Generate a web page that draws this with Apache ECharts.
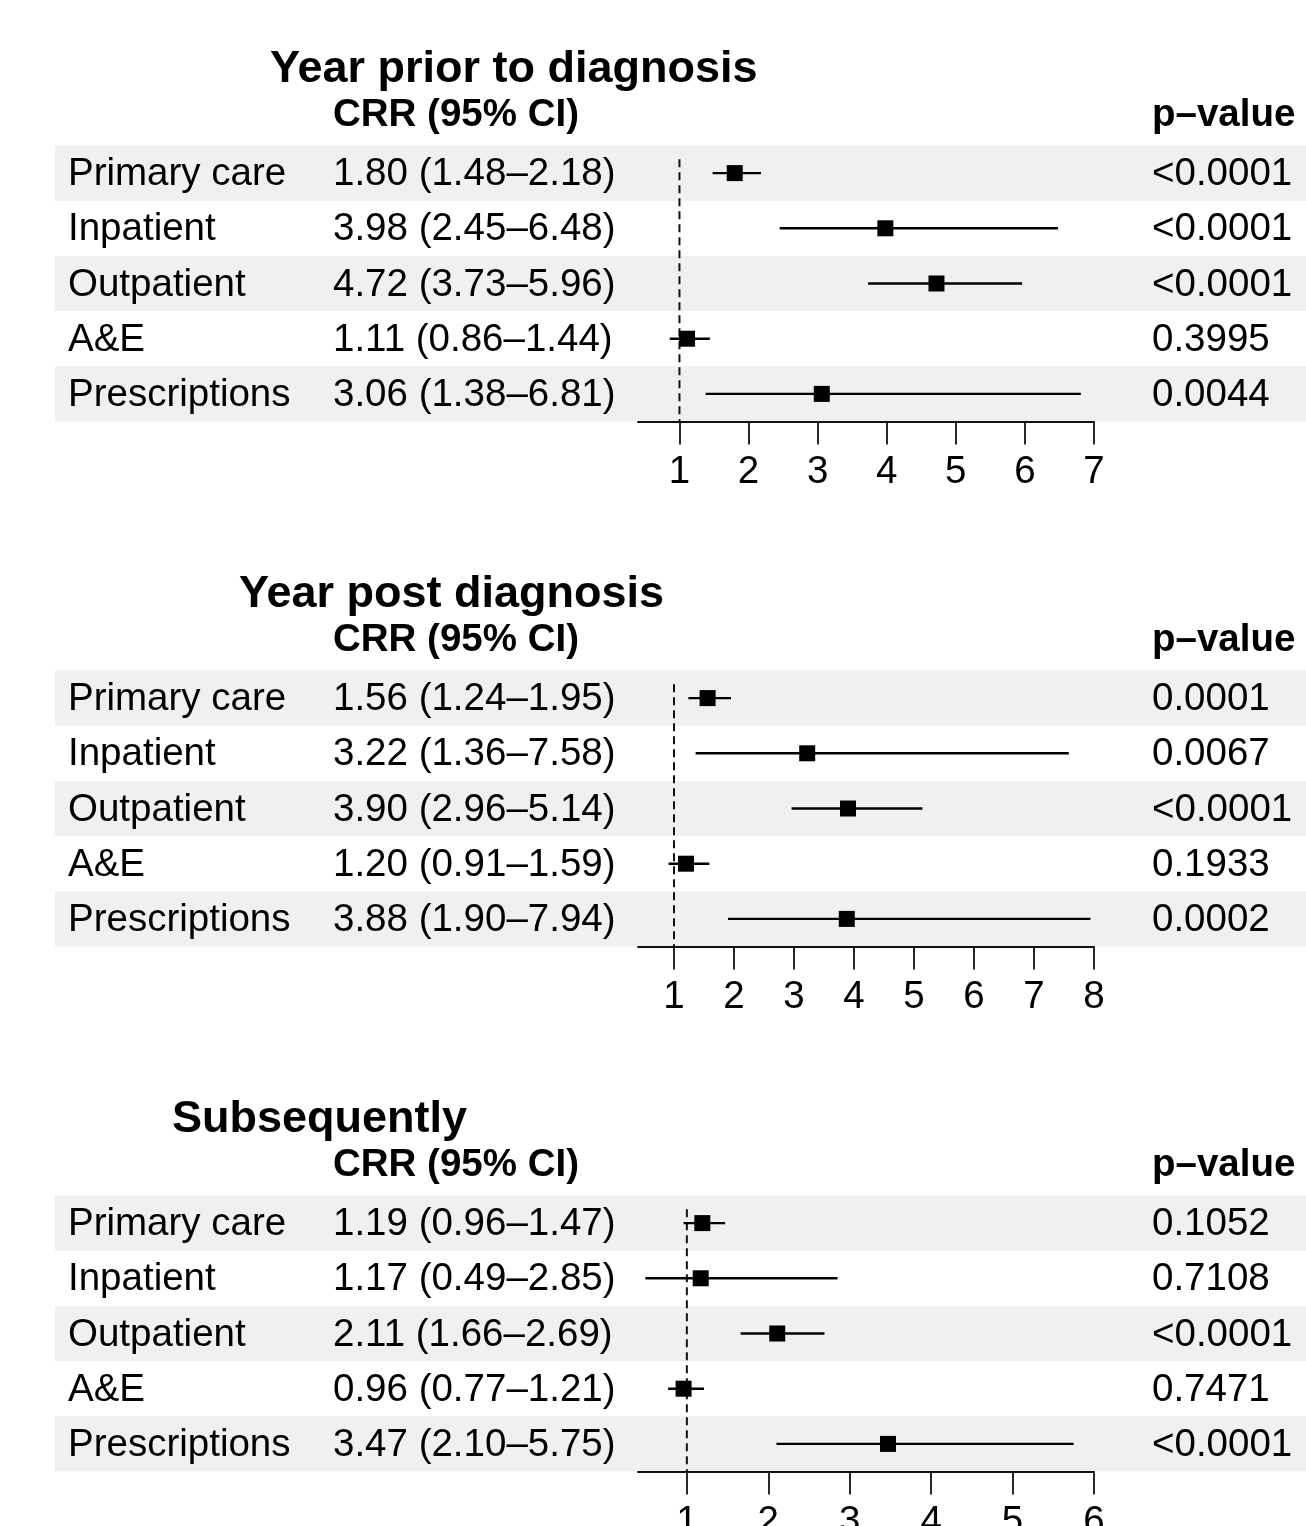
<!DOCTYPE html>
<html>
<head>
<meta charset="utf-8">
<script src="https://cdn.jsdelivr.net/npm/echarts@6/dist/echarts.min.js"></script>
<style>
  html, body { margin: 0; padding: 0; background: #fff; }
  #chart { width: 1306px; height: 1526px; }
</style>
</head>
<body>
<div id="chart"></div>
<script type="text/javascript">
// row names (same in every panel)
var labels = ['Primary care', 'Inpatient', 'Outpatient', 'A&E', 'Prescriptions'];

// year prior to diagnosis
var priorEst = [1.80, 3.98, 4.72, 1.11, 3.06];
var priorLo  = [1.48, 2.45, 3.73, 0.86, 1.38];
var priorHi  = [2.18, 6.48, 5.96, 1.44, 6.81];
var priorP   = ['<0.0001', '<0.0001', '<0.0001', '0.3995', '0.0044'];
var priorTicks = [1, 2, 3, 4, 5, 6, 7];

// year post diagnosis
var postEst = [1.56, 3.22, 3.90, 1.20, 3.88];
var postLo  = [1.24, 1.36, 2.96, 0.91, 1.90];
var postHi  = [1.95, 7.58, 5.14, 1.59, 7.94];
var postP   = ['0.0001', '0.0067', '<0.0001', '0.1933', '0.0002'];
var postTicks = [1, 2, 3, 4, 5, 6, 7, 8];

// subsequently
var subsEst = [1.19, 1.17, 2.11, 0.96, 3.47];
var subsLo  = [0.96, 0.49, 1.66, 0.77, 2.10];
var subsHi  = [1.47, 2.85, 2.69, 1.21, 5.75];
var subsP   = ['0.1052', '0.7108', '<0.0001', '0.7471', '<0.0001'];
var subsTicks = [1, 2, 3, 4, 5, 6];

var titles = ['Year prior to diagnosis', 'Year post diagnosis', 'Subsequently'];
var refLine = 1;

var panels = [
  {title: titles[0], est: priorEst, lo: priorLo, hi: priorHi, p: priorP, ticks: priorTicks, titleX: 270},
  {title: titles[1], est: postEst, lo: postLo, hi: postHi, p: postP, ticks: postTicks, titleX: 239},
  {title: titles[2], est: subsEst, lo: subsLo, hi: subsHi, p: subsP, ticks: subsTicks, titleX: 172}
];

var FONT = '"Liberation Sans", Helvetica, Arial, sans-serif';
var FS = 38.5;
var panelStep = 525;
var bandTop = 145.5;
var rowH = 55.2;

function fmt(v) { return v.toFixed(2); }

var grids = [], xAxes = [], yAxes = [], series = [], graphics = [];

panels.forEach(function (pn, k) {
  var off = k * panelStep;
  grids.push({left: 638, width: 456, top: bandTop + off, height: rowH * 5, outerBoundsMode: 'none', containLabel: false});
  xAxes.push({
    type: 'value', gridIndex: k, position: 'bottom', min: 0.4, max: pn.ticks[pn.ticks.length - 1],
    axisLine: {show: true, onZero: false, lineStyle: {color: '#111', width: 1.8}},
    axisTick: {show: true, customValues: pn.ticks, length: 23, lineStyle: {color: '#111', width: 1.8}},
    axisLabel: {show: true, customValues: pn.ticks, fontSize: FS, color: '#000', fontFamily: FONT, margin: 31},
    splitLine: {show: false}
  });
  yAxes.push({type: 'value', gridIndex: k, min: -0.5, max: 4.5, inverse: true, show: false});

  // shaded bands on odd rows
  series.push({
    type: 'custom', xAxisIndex: k, yAxisIndex: k, z: 0, silent: true,
    data: [0, 2, 4],
    renderItem: function (params, api) {
      var r = api.value(0);
      var y0 = api.coord([1, r - 0.5])[1];
      var y1 = api.coord([1, r + 0.5])[1];
      return {type: 'rect', shape: {x: 55, y: y0, width: 1306 - 55, height: y1 - y0},
              style: {fill: '#eef1f0'}};
    }
  });

  // table text
  series.push({
    type: 'custom', xAxisIndex: k, yAxisIndex: k, z: 5, silent: true,
    data: labels.map(function (l, i) { return [i]; }),
    renderItem: function (params, api) {
      var i = params.dataIndex;
      var y = api.coord([1, i])[1] + 1.5;
      var ts = function (t, x) {
        return {type: 'text', x: x, y: y,
                style: {text: t, fontSize: FS, fontFamily: FONT, fill: '#000',
                        align: 'left', verticalAlign: 'middle'}};
      };
      return {type: 'group', children: [
        ts(labels[i], 68),
        ts(fmt(pn.est[i]) + ' (' + fmt(pn.lo[i]) + '\u2013' + fmt(pn.hi[i]) + ')', 333),
        ts(pn.p[i], 1152)
      ]};
    }
  });

  // reference line
  series.push({
    type: 'line', xAxisIndex: k, yAxisIndex: k, z: 2, symbol: 'none', silent: true,
    data: [[refLine, -0.25], [refLine, 4.5]],
    lineStyle: {color: '#111', width: 2, type: [8, 5]}
  });

  // confidence intervals
  series.push({
    type: 'custom', xAxisIndex: k, yAxisIndex: k, z: 3, silent: true,
    data: pn.lo.map(function (v, i) { return [v, pn.hi[i], i]; }),
    renderItem: function (params, api) {
      var a = api.coord([api.value(0), api.value(2)]);
      var b = api.coord([api.value(1), api.value(2)]);
      return {type: 'line', shape: {x1: a[0], y1: a[1], x2: b[0], y2: b[1]},
              style: {stroke: '#000', lineWidth: 2.4}};
    }
  });

  // point estimates
  series.push({
    type: 'scatter', xAxisIndex: k, yAxisIndex: k, z: 4, silent: true,
    symbol: 'rect', symbolSize: 16,
    itemStyle: {color: '#000', opacity: 1},
    data: pn.est.map(function (v, i) { return [v, i]; })
  });

  graphics.push({type: 'text', x: pn.titleX, y: 70 + off,
    style: {text: pn.title, fontSize: 45, fontWeight: 'bold', fontFamily: FONT, fill: '#000', verticalAlign: 'middle'}});
  graphics.push({type: 'text', x: 333, y: 115 + off,
    style: {text: 'CRR (95% CI)', fontSize: FS, fontWeight: 'bold', fontFamily: FONT, fill: '#000', verticalAlign: 'middle'}});
  graphics.push({type: 'text', x: 1152, y: 115 + off,
    style: {text: 'p\u2013value', fontSize: FS, fontWeight: 'bold', fontFamily: FONT, fill: '#000', verticalAlign: 'middle'}});
});

var chart = echarts.init(document.getElementById('chart'));
chart.setOption({
  animation: false,
  backgroundColor: '#fff',
  grid: grids,
  xAxis: xAxes,
  yAxis: yAxes,
  graphic: graphics,
  series: series
});
</script>
</body>
</html>
